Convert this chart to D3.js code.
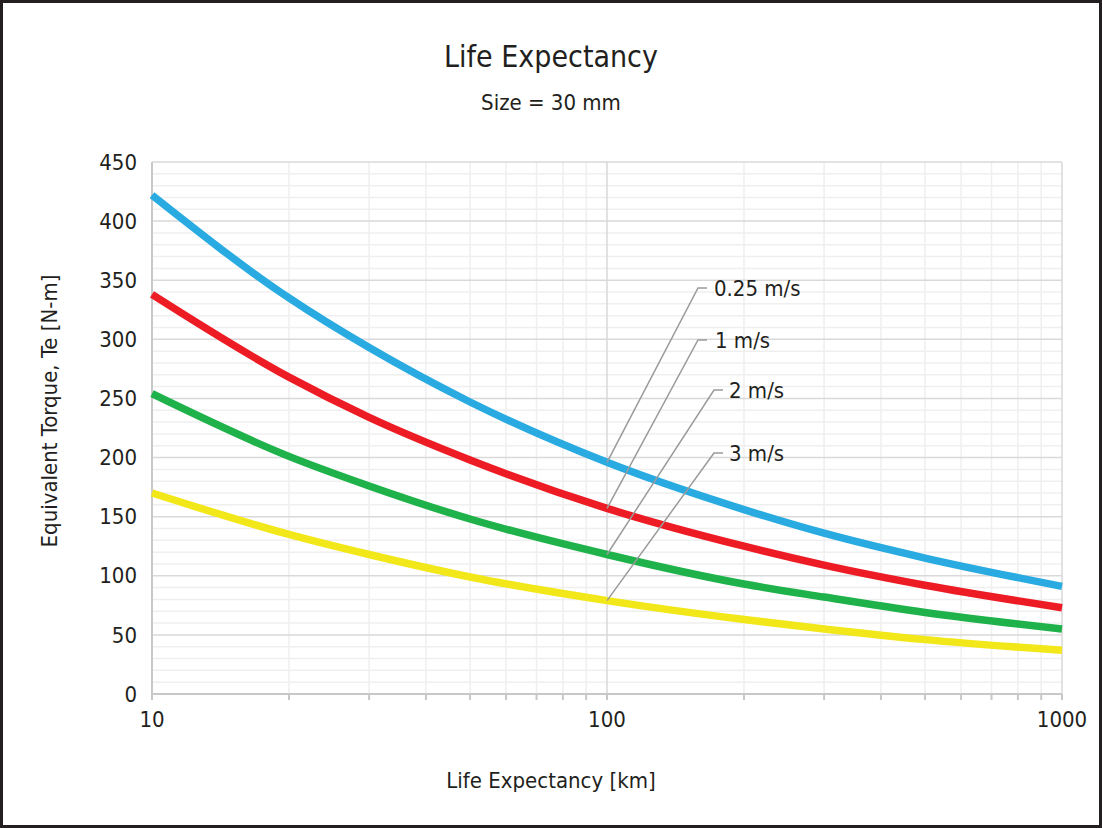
<!DOCTYPE html>
<html>
<head>
<meta charset="utf-8">
<script src="https://cdn.jsdelivr.net/npm/d3@7"></script>
<style>
  body { margin: 0; background: #fff; }
  svg text { font-family: "Liberation Sans Narrow", "DejaVu Sans Condensed", "Roboto", sans-serif; fill: #231f20; }
</style>
</head>
<body>
<div id="chart"></div>
<script>
// data
const lifeKm = [10, 20, 30, 50, 100, 200, 300, 500, 1000];
const speeds = ["0.25 m/s", "1 m/s", "2 m/s", "3 m/s"];
const torque025 = [422, 335, 293, 247, 196, 156, 136, 115, 91];
const torque1 = [338, 268, 234, 198, 157, 125, 109, 92, 73];
const torque2 = [254, 201, 176, 148, 118, 93, 82, 69, 55];
const torque3 = [170, 135, 118, 99, 79, 63, 55, 46, 37];
const yTicks = [0, 50, 100, 150, 200, 250, 300, 350, 400, 450];
const xTicks = [10, 100, 1000];

const seriesList = [torque025, torque1, torque2, torque3];
const colours = ["#29abe2", "#ed1c24", "#1fb24a", "#f2e718"];

const width = 1102, height = 828;
const margin = {left: 152, right: 40, top: 162, bottom: 134};

const svg = d3.select("#chart").append("svg")
    .attr("width", width)
    .attr("height", height);

// outer frame
svg.append("rect")
    .attr("x", 1.5).attr("y", 1.5)
    .attr("width", width - 3).attr("height", height - 3)
    .attr("fill", "#fff")
    .attr("stroke", "#231f20")
    .attr("stroke-width", 3);

const x = d3.scaleLog()
    .domain([10, 1000])
    .range([margin.left, width - margin.right]);

const y = d3.scaleLinear()
    .domain([0, 450])
    .range([height - margin.bottom, margin.top]);

const plot = svg.append("g");

// minor grid
const minorY = d3.range(0, 451, 10).filter(v => v % 50 !== 0);
plot.selectAll(".minor-y").data(minorY).enter().append("line")
    .attr("x1", x(10)).attr("x2", x(1000))
    .attr("y1", d => y(d)).attr("y2", d => y(d))
    .attr("stroke", "#efefef").attr("stroke-width", 1.5);

const minorX = x.ticks().filter(v => xTicks.indexOf(v) < 0);
plot.selectAll(".minor-x").data(minorX).enter().append("line")
    .attr("x1", d => x(d)).attr("x2", d => x(d))
    .attr("y1", y(0)).attr("y2", y(450))
    .attr("stroke", "#efefef").attr("stroke-width", 1.5);

// major grid
plot.selectAll(".major-y").data(yTicks.slice(1)).enter().append("line")
    .attr("x1", x(10)).attr("x2", x(1000))
    .attr("y1", d => y(d)).attr("y2", d => y(d))
    .attr("stroke", "#d9d9d9").attr("stroke-width", 1.5);

plot.selectAll(".major-x").data(xTicks.slice(1)).enter().append("line")
    .attr("x1", d => x(d)).attr("x2", d => x(d))
    .attr("y1", y(0)).attr("y2", y(450))
    .attr("stroke", "#d9d9d9").attr("stroke-width", 1.5);

// axes lines
plot.append("line")
    .attr("x1", x(10)).attr("x2", x(10))
    .attr("y1", y(0) + 5).attr("y2", y(450))
    .attr("stroke", "#c8c8c8").attr("stroke-width", 2);

plot.append("line")
    .attr("x1", x(10)).attr("x2", x(1000))
    .attr("y1", y(0)).attr("y2", y(0))
    .attr("stroke", "#c8c8c8").attr("stroke-width", 2);

plot.selectAll(".xtick").data(x.ticks()).enter().append("line")
    .attr("x1", d => x(d)).attr("x2", d => x(d))
    .attr("y1", y(0)).attr("y2", y(0) + 6)
    .attr("stroke", "#c8c8c8").attr("stroke-width", 2);

// tick labels
svg.selectAll(".ylab").data(yTicks).enter().append("text")
    .attr("x", margin.left - 15)
    .attr("y", d => y(d))
    .attr("dy", "0.35em")
    .attr("text-anchor", "end")
    .attr("font-size", "22px")
    .text(d => d);

svg.selectAll(".xlab").data(xTicks).enter().append("text")
    .attr("x", d => x(d))
    .attr("y", y(0) + 33)
    .attr("text-anchor", "middle")
    .attr("font-size", "22px")
    .text(d => d);

// curves
const line = d3.line()
    .x((d, i) => x(lifeKm[i]))
    .y(d => y(d))
    .curve(d3.curveMonotoneX);

seriesList.forEach((s, i) => {
    plot.append("path")
        .attr("d", line(s))
        .attr("fill", "none")
        .attr("stroke", colours[i])
        .attr("stroke-width", 7.5);
});

// leader labels
const labelPos = [
    {x: 698, y: 288, hx: 707, tx: 714},
    {x: 698, y: 340, hx: 707, tx: 715},
    {x: 714, y: 390, hx: 723, tx: 729},
    {x: 714, y: 453, hx: 723, tx: 729}
];
const at100 = lifeKm.indexOf(100);

speeds.forEach((name, i) => {
    const p = labelPos[i];
    svg.append("polyline")
        .attr("points", `${x(100)},${y(seriesList[i][at100])} ${p.x},${p.y} ${p.hx},${p.y}`)
        .attr("fill", "none")
        .attr("stroke", "#9a9a9a")
        .attr("stroke-width", 1.5);
    svg.append("text")
        .attr("x", p.tx)
        .attr("y", p.y)
        .attr("dy", "0.35em")
        .attr("font-size", "22px")
        .text(name);
});

// titles
svg.append("text")
    .attr("x", width / 2)
    .attr("y", 67)
    .attr("text-anchor", "middle")
    .attr("font-size", "30px")
    .text("Life Expectancy");

svg.append("text")
    .attr("x", width / 2)
    .attr("y", 110)
    .attr("text-anchor", "middle")
    .attr("font-size", "22px")
    .text("Size = 30 mm");

svg.append("text")
    .attr("x", width / 2)
    .attr("y", 788)
    .attr("text-anchor", "middle")
    .attr("font-size", "22px")
    .text("Life Expectancy [km]");

svg.append("text")
    .attr("transform", "translate(57,411) rotate(-90)")
    .attr("text-anchor", "middle")
    .attr("font-size", "22px")
    .text("Equivalent Torque, Te [N-m]");
</script>
</body>
</html>
